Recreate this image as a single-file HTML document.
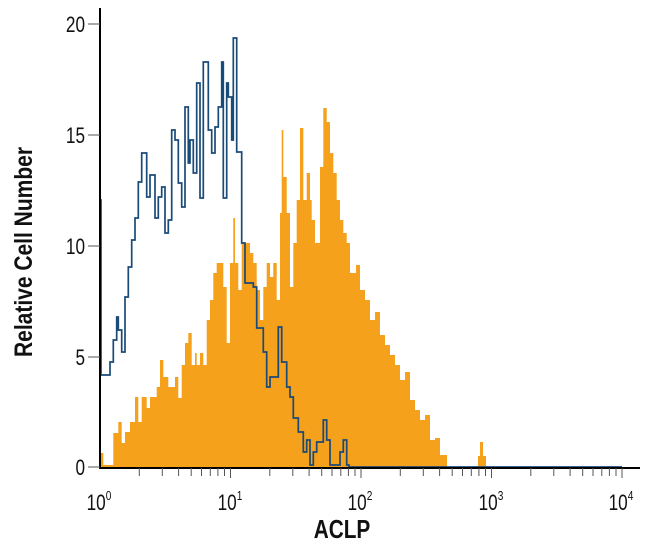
<!DOCTYPE html>
<html><head><meta charset="utf-8"><style>
html,body{margin:0;padding:0;background:#fff;}
svg{display:block;font-family:"Liberation Sans Narrow","Liberation Sans",sans-serif;}
</style></head><body>
<svg width="650" height="560" xmlns="http://www.w3.org/2000/svg">
<path fill="#f5a11c" d="M100,467 V453 H103.3 V465 H113.3 V433 H118.3 V422 H121.7 V443 H125 V432 H130 V422 H135 V397 H138.3 V422 H141.7 V397 H146.7 V408 H150 V397 H156.7 V387 H160 V360 H163.3 V377 H168.3 V387 H175 V377 H178.3 V398 H181.7 V365 H185 V343 H188.3 V333 H191.7 V365 H195 V353 H196.7 V365 H200 V353 H203.3 V365 H206.7 V320 H210 V300 H213.3 V273 H216.7 V263 H223.3 V287 H226.7 V343 H230 V263 H233.3 V218 H235 V263 H238.3 V290 H241.7 V243 H250 V253 H253.3 V263 H256.7 V290 H260 V320 H263.3 V287 H266.7 V263 H270 V277 H273.3 V263 H276.7 V300 H280 V213 H281.7 V130 H283.3 V177 H286.7 V213 H290 V287 H293.3 V243 H296.7 V200 H300 V128 H303.3 V200 H306.7 V173 H310 V200 H311.7 V220 H315 V243 H316.7 V243 H320 V167 H323.3 V108 H326.7 V122 H330 V153 H333.3 V173 H336.7 V200 H340 V220 H343.3 V233 H346.7 V243 H350 V273 H356 V265 H360 V290 H365 V300 H370 V320 H375 V312 H380 V335 H385 V345 H390 V355 H395 V365 H400 V380 H405 V372 H410 V400 H415 V410 H420 V420 H425 V415 H430 V440 H435 V438 H440 V455 H447 V467 Z M478,467 V456 H480 V442 H483 V456 H486 V467 Z"/>
<path fill="none" stroke="#1a4a78" stroke-width="1.7" d="M100,467 V200 H101 V375 H110 V362 H113.3 V340 H116.7 V317 H118.3 V330 H121.7 V352 H125 V297 H128.3 V267 H131.7 V240 H135 V218 H138.3 V182 H141.7 V153 H146.7 V197 H150 V175 H155 V218 H158.3 V197 H161.7 V187 H165 V233 H168.3 V220 H171.7 V130 H175 V140 H178.3 V183 H181.7 V207 H185 V107 H188.3 V163 H190 V140 H193.3 V173 H196.7 V83 H200 V198 H203.3 V62 H208.3 V130 H211.7 V153 H215 V127 H218.3 V107 H221.7 V62 H223.3 V198 H226.7 V83 H228.3 V97 H231.7 V140 H233.3 V38 H236.7 V152 H241.7 V243 H245 V283 H253.3 V287 H256.7 V328 H263.3 V352 H266.7 V387 H270 V377 H273.3 V377 H278.3 V327 H281.7 V362 H286.7 V387 H290 V397 H293.3 V418 H298.3 V432 H303.3 V452 H306.7 V440 H310 V465 H313.3 V452 H316.7 V442 H323.3 V420 H326.7 V440 H330 V465 H336.7 V465 H340 V452 H343.3 V440 H346.7 V465 H349 V467 H622"/>
<line x1="100" y1="8" x2="100" y2="469" stroke="#000" stroke-width="2"/>
<line x1="99" y1="468" x2="640" y2="468" stroke="#000" stroke-width="2"/>
<g stroke="#555" stroke-width="1">
<line x1="88" y1="24" x2="100" y2="24"/><line x1="88" y1="135" x2="100" y2="135"/>
<line x1="88" y1="246" x2="100" y2="246"/><line x1="88" y1="357" x2="100" y2="357"/>
<line x1="88" y1="467" x2="100" y2="467"/>
</g>
<g stroke="#555" stroke-width="1">
<path d="M139.3,468V476M162.3,468V476M178.6,468V476M191.2,468V476M201.5,468V476M210.3,468V476M217.9,468V476M224.5,468V476M230.5,468V478
M269.8,468V476M292.8,468V476M309.1,468V476M321.7,468V476M332,468V476M340.8,468V476M348.4,468V476M355,468V476M361,468V478
M400.3,468V476M423.3,468V476M439.6,468V476M452.2,468V476M462.5,468V476M471.3,468V476M478.9,468V476M485.5,468V476M491.5,468V478
M530.8,468V476M553.8,468V476M570.1,468V476M582.7,468V476M593,468V476M601.8,468V476M609.4,468V476M616,468V476M622,468V478"/>
</g>
<g font-size="22" text-anchor="end" fill="#111">
<text transform="translate(85,32) scale(0.78,1)">20</text>
<text transform="translate(85,143) scale(0.78,1)">15</text>
<text transform="translate(85,254) scale(0.78,1)">10</text>
<text transform="translate(85,365) scale(0.78,1)">5</text>
<text transform="translate(85,475) scale(0.78,1)">0</text>
</g>
<g font-size="22" fill="#111" text-anchor="middle">
<text transform="translate(99,510) scale(0.78,1)">10<tspan font-size="13" dy="-10">0</tspan></text>
<text transform="translate(230,510) scale(0.78,1)">10<tspan font-size="13" dy="-10">1</tspan></text>
<text transform="translate(360,510) scale(0.78,1)">10<tspan font-size="13" dy="-10">2</tspan></text>
<text transform="translate(491,510) scale(0.78,1)">10<tspan font-size="13" dy="-10">3</tspan></text>
<text transform="translate(621,510) scale(0.78,1)">10<tspan font-size="13" dy="-10">4</tspan></text>
</g>
<text transform="translate(342,538) scale(0.8,1)" font-size="26" font-weight="bold" text-anchor="middle" fill="#111">ACLP</text>
<text transform="translate(32,252) rotate(-90) scale(0.84,1)" font-size="25" font-weight="bold" text-anchor="middle" fill="#111">Relative Cell Number</text>
</svg>
</body></html>
